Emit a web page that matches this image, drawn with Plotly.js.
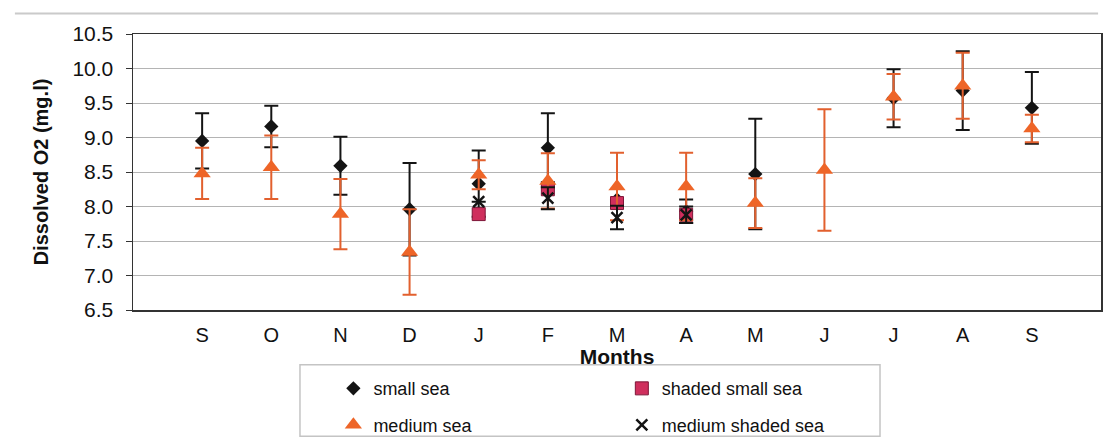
<!DOCTYPE html>
<html>
<head>
<meta charset="utf-8">
<script src="https://cdn.plot.ly/plotly-3.0.1.min.js"></script>
<style>
  html, body { margin: 0; padding: 0; background: #ffffff; }
  #chart { width: 1106px; height: 448px; }
</style>
</head>
<body>
<div id="chart"></div>
<script>
// Monthly dissolved oxygen, Sep to Sep
const months = ['S', 'O', 'N', 'D', 'J', 'F', 'M', 'A', 'M', 'J', 'J', 'A', 'S'];

const smallSea       = [8.95, 9.16, 8.59, 7.96, 8.33, 8.85, 8.10, 7.93, 8.47, null, 9.57, 9.68, 9.43];
const smallSeaErr    = [0.40, 0.30, 0.42, 0.67, 0.48, 0.50, null, 0.17, 0.80, null, 0.42, 0.57, 0.52];

const shadedSmallSea    = [null, null, null, null, 7.89, 8.25, 8.05, 7.88, null, null, null, null, null];

const mediumSea      = [8.48, 8.57, 7.89, 7.34, 8.46, 8.37, 8.29, 8.29, 8.05, 8.53, 9.59, 9.75, 9.13];
const mediumSeaErr   = [0.37, 0.46, 0.51, 0.62, 0.21, 0.40, 0.49, 0.49, 0.36, 0.88, 0.33, 0.48, 0.20];

const mediumShadedSea    = [null, null, null, null, 8.07, 8.12, 7.84, 7.88, null, null, null, null, null];
const mediumShadedSeaErr = [null, null, null, null, null, 0.16, 0.17, 0.12, null, null, null, null, null];

// categories sit on positions 1..13 of a 0..14 axis
const xs = months.map((m, i) => i + 1);

const FONT = 'Liberation Sans, Arial, sans-serif';
const BLACK = '#141414';
const ORANGE = '#ee6528';
const CRIMSON = '#cf2f5d';

function errBars(values, color) {
  return { type: 'data', array: values, visible: true, color: color, thickness: 2, width: 7 };
}

const traces = [
  {
    name: 'small sea', x: xs, y: smallSea, type: 'scatter', mode: 'markers',
    marker: { symbol: 'diamond', size: 11, color: BLACK },
    error_y: errBars(smallSeaErr, BLACK),
    legend: 'legend', legendgroup: 'a'
  },
  {
    name: 'shaded small sea', x: xs, y: shadedSmallSea, type: 'scatter', mode: 'markers',
    marker: { symbol: 'square', size: 13, color: CRIMSON, line: { color: '#7d1638', width: 1 } },
    legend: 'legend2', legendgroup: 'b'
  },
  {
    name: 'medium sea', x: xs, y: mediumSea, type: 'scatter', mode: 'markers',
    marker: { symbol: 'triangle-up', size: 15, color: ORANGE },
    error_y: errBars(mediumSeaErr, '#e2602e'),
    legend: 'legend', legendgroup: 'c'
  },
  {
    name: 'medium shaded sea', x: xs, y: mediumShadedSea, type: 'scatter', mode: 'markers',
    marker: { symbol: 'x-thin', size: 11, color: BLACK, line: { color: BLACK, width: 2.5 } },
    error_y: errBars(mediumShadedSeaErr, BLACK),
    legend: 'legend2', legendgroup: 'd'
  }
];

const legendBase = {
  orientation: 'v', xanchor: 'left', yanchor: 'top',
  font: { family: FONT, size: 18, color: '#111' },
  bgcolor: 'rgba(0,0,0,0)', borderwidth: 0, tracegroupgap: 10
};

const layout = {
  width: 1106, height: 448,
  margin: { l: 133, r: 5, t: 34, b: 132 },
  paper_bgcolor: '#ffffff', plot_bgcolor: '#ffffff',
  font: { family: FONT, color: '#111' },
  showlegend: true,
  legend: Object.assign({}, legendBase, { x: 0.207, y: -0.218 }),
  legend2: Object.assign({}, legendBase, { x: 0.505, y: -0.218 }),
  xaxis: {
    range: [0, 14], tickmode: 'array', tickvals: xs, ticktext: months,
    showgrid: false, zeroline: false,
    showline: true, mirror: true, linecolor: '#333', linewidth: 1.5,
    ticks: '', tickfont: { family: FONT, size: 20, color: '#111' },
    ticklabelstandoff: 6,
    title: { text: '<b>Months</b>', font: { family: FONT, size: 21, color: '#111' }, standoff: 3 }
  },
  yaxis: {
    range: [6.5, 10.5], dtick: 0.5, tick0: 6.5, tickformat: '.1f',
    showgrid: true, gridcolor: '#b4b4b4', gridwidth: 1, zeroline: false,
    showline: true, mirror: true, linecolor: '#333', linewidth: 1.5,
    ticks: 'outside', ticklen: 6, tickcolor: '#333', tickwidth: 1,
    tickfont: { family: FONT, size: 21, color: '#111' },
    ticklabelstandoff: 8,
    title: { text: '<b>Dissolved O2 (mg.l)</b>', font: { family: FONT, size: 20, color: '#111' }, standoff: 18 }
  },
  shapes: [
    // frame around the legend
    { type: 'rect', xref: 'paper', yref: 'paper', x0: 0.1725, x1: 0.7717, y0: -0.4574, y1: -0.1986,
      line: { color: '#c4c4c4', width: 1.5 }, fillcolor: 'rgba(0,0,0,0)' },
    // outer chart edge along the top
    { type: 'line', xref: 'paper', yref: 'paper', x0: -0.122, x1: 0.997, y0: 1.0745, y1: 1.0745,
      line: { color: '#cacaca', width: 2 } }
  ]
};

Plotly.newPlot('chart', traces, layout, { displayModeBar: false, staticPlot: true });
</script>
</body>
</html>
